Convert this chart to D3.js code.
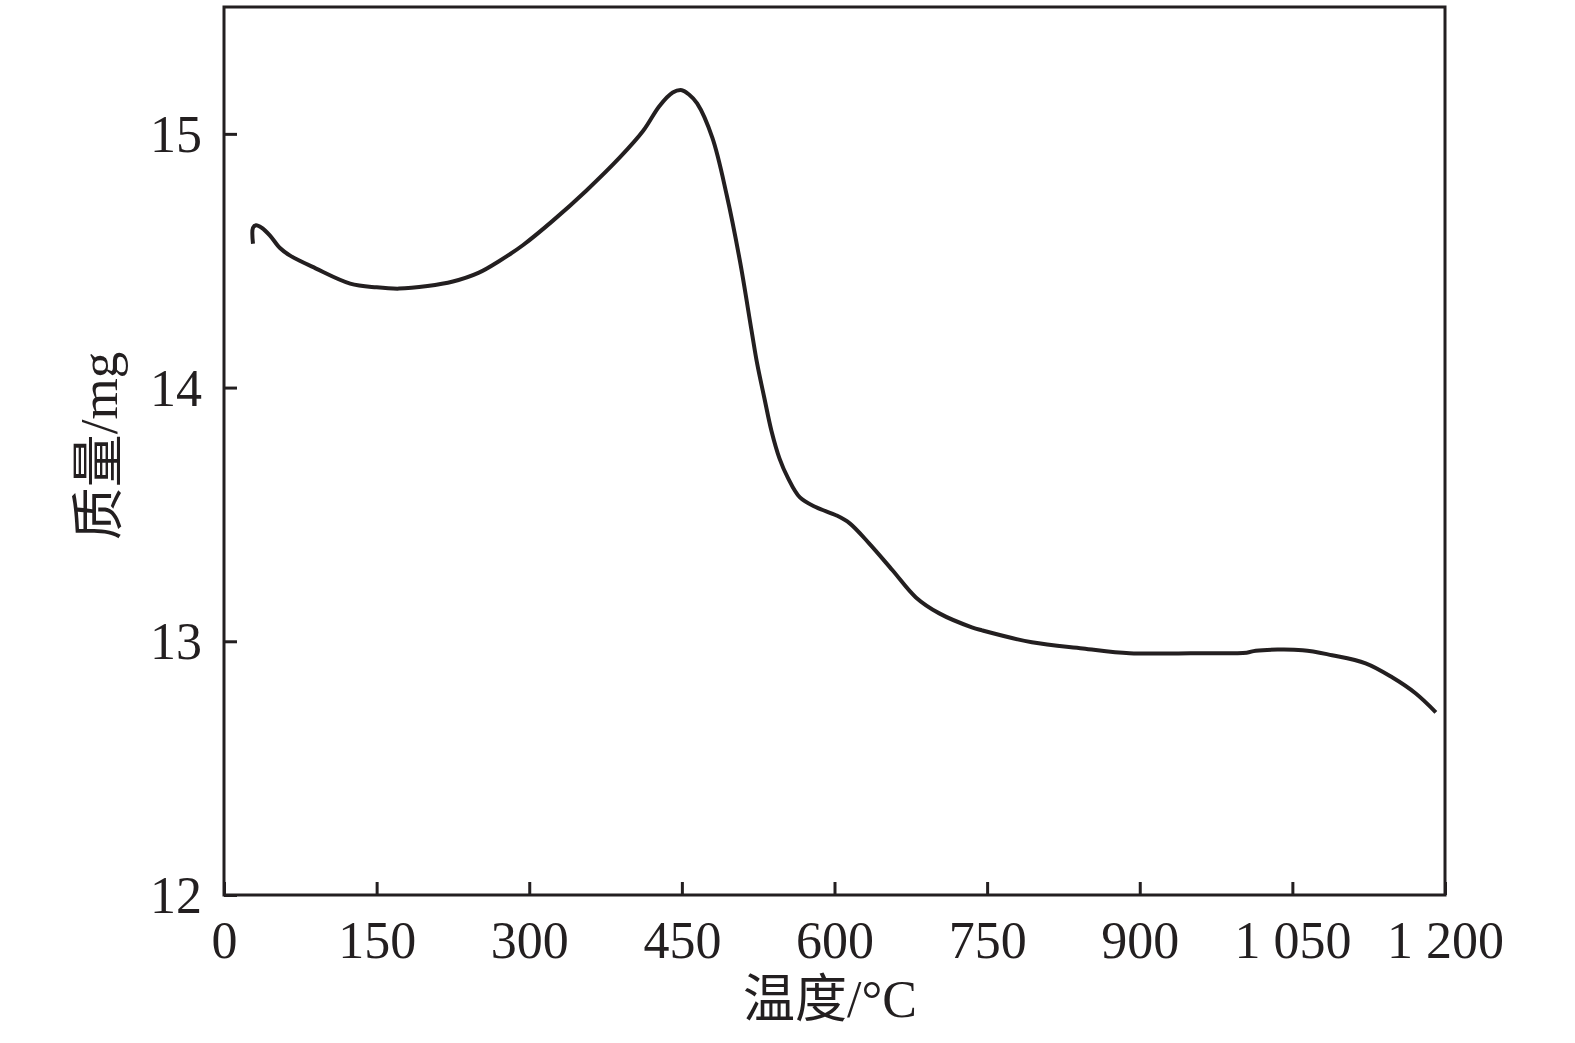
<!DOCTYPE html>
<html>
<head>
<meta charset="utf-8">
<script src="https://cdn.jsdelivr.net/npm/d3@7/dist/d3.min.js"></script>
<style>
  body { margin: 0; background: #fff; }
  text { font-family: "Liberation Serif", "Noto Sans CJK SC", serif; fill: #231f20; }
</style>
</head>
<body>
<svg id="chart"></svg>
<script>
// temperature (°C) and sample mass (mg)
var temps = [28.5, 28.5, 31.5, 37, 45, 55, 65, 90, 124, 150, 172, 200, 225, 250, 271, 294,
	323, 356, 389, 412, 428, 441, 450, 457, 465, 480, 494, 507, 518.5, 524, 531, 538, 546,
	554, 566, 582, 602, 615, 634, 657, 680, 703, 735, 745, 794, 844, 890, 950, 1005,
	1014, 1060, 1089, 1122, 1148, 1171, 1191];
var masses = [14.567, 14.63, 14.64, 14.63, 14.6, 14.55, 14.52, 14.47, 14.41, 14.395, 14.39, 14.40, 14.418, 14.452, 14.50, 14.562,
	14.657, 14.776, 14.907, 15.012, 15.11, 15.163, 15.172, 15.155, 15.12, 14.984, 14.76, 14.50, 14.224, 14.094, 13.96, 13.83, 13.72,
	13.646, 13.567, 13.528, 13.496, 13.465, 13.386, 13.28, 13.173, 13.11, 13.055, 13.043, 12.996, 12.972, 12.953, 12.953, 12.955,
	12.963, 12.965, 12.945, 12.913, 12.858, 12.795, 12.72];

var xTicks = [0, 150, 300, 450, 600, 750, 900, 1050, 1200];
var xTickLabels = ['0', '150', '300', '450', '600', '750', '900', '1 050', '1 200'];
var yTicks = [12, 13, 14, 15];
var yTickLabels = ['12', '13', '14', '15'];

var xTitle = '温度/°C';
var yTitle = '质量/mg';

var W = 1575, H = 1043;
var margin = {left: 224, right: 130, top: 7, bottom: 148};
var width = W - margin.left - margin.right;
var height = H - margin.top - margin.bottom;
var ink = '#231f20';

var svg = d3.select('#chart').attr('width', W).attr('height', H);
var chart = svg.append('g')
	.attr('transform', 'translate(' + margin.left + ',' + margin.top + ')');

var x = d3.scaleLinear().domain([0, 1200]).range([0, width]);
var y = d3.scaleLinear().domain([12, 15.5]).range([height, 0]);

// axes with inward ticks
var xAxis = chart.append('g')
	.attr('transform', 'translate(0,' + height + ')')
	.call(d3.axisBottom(x).tickValues(xTicks)
		.tickSizeInner(-13).tickSizeOuter(0).tickPadding(26)
		.tickFormat(function(d, i) { return xTickLabels[i]; }));

var yAxis = chart.append('g')
	.call(d3.axisLeft(y).tickValues(yTicks)
		.tickSizeInner(-13).tickSizeOuter(0).tickPadding(22)
		.tickFormat(function(d, i) { return yTickLabels[i]; }));

[xAxis, yAxis].forEach(function(a) {
	a.select('.domain').remove();
	a.selectAll('line').attr('stroke', ink).attr('stroke-width', 3);
	a.selectAll('text').attr('font-size', 52).style('fill', ink)
		.attr('font-family', '"Liberation Serif", serif');
});
xAxis.selectAll('text').attr('dy', '0.71em');
yAxis.selectAll('text').attr('dy', '0.34em');

// frame
chart.append('rect')
	.attr('width', width)
	.attr('height', height)
	.attr('fill', 'none')
	.attr('stroke', ink)
	.attr('stroke-width', 3);

var line = d3.line()
	.x(function(d) { return x(d[0]); })
	.y(function(d) { return y(d[1]); })
	.curve(d3.curveCatmullRom.alpha(0.5));

chart.append('path')
	.datum(d3.zip(temps, masses))
	.attr('d', line)
	.attr('fill', 'none')
	.attr('stroke', ink)
	.attr('stroke-width', 4)
	.attr('stroke-linejoin', 'round');

// axis titles
svg.append('text')
	.attr('x', 830)
	.attr('y', 1017)
	.attr('text-anchor', 'middle')
	.attr('font-size', 52)
	.text(xTitle);

svg.append('text')
	.attr('transform', 'translate(117,446) rotate(-90)')
	.attr('text-anchor', 'middle')
	.attr('font-size', 53)
	.text(yTitle);
</script>
</body>
</html>
